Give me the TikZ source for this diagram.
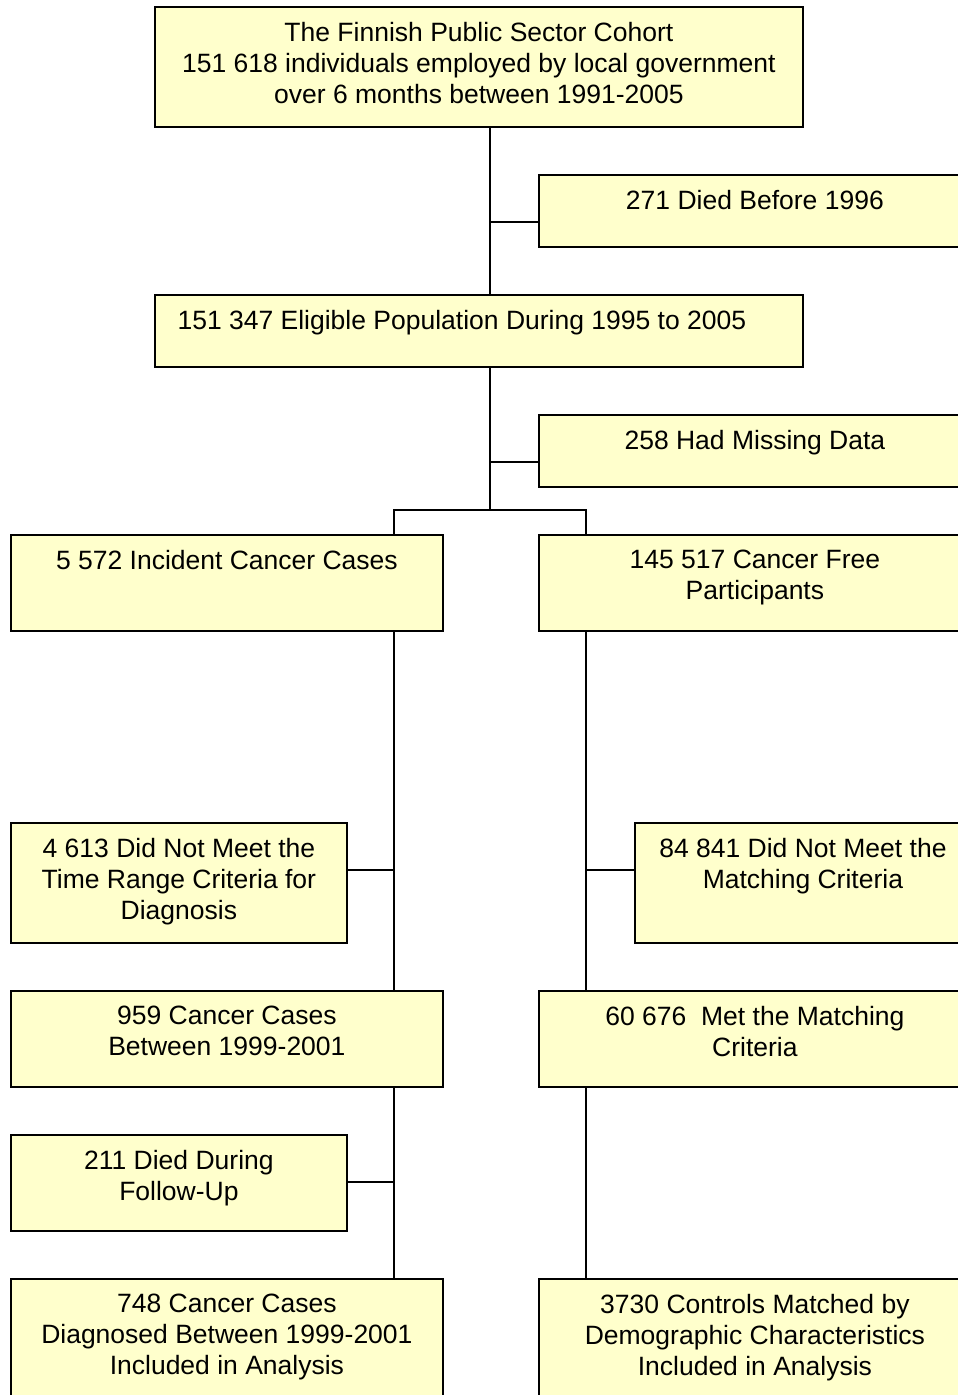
\documentclass[tikz,border=0pt]{standalone}
\usepackage{fontspec}
\setmainfont{Liberation Sans}
\usepackage{xcolor}
\usepackage{tikz}
\usetikzlibrary{positioning}

\definecolor{cohortyellow}{RGB}{255,255,204}

\tikzset{
  stage/.style={draw, fill=cohortyellow, line width=1.8pt, rectangle, anchor=north west, inner sep=0pt},
  boxtext/.style={anchor=north, inner sep=0pt, yshift=-16pt, align=center},
  link/.style={line width=1.8pt}
}

\begin{document}
\begin{tikzpicture}[x=1pt, y=-1pt, font=\fontsize{26.5}{31}\selectfont]
  \useasboundingbox (0,0) rectangle (958,1395);
  \clip (0,0) rectangle (958,1395);

  \node[stage, minimum width=648, minimum height=120, label={[boxtext]north:The Finnish Public Sector Cohort\\151 618 individuals employed by local government\\over 6 months between 1991-2005}] (cohort) at (154,6) {};
  \node[stage, minimum width=432, minimum height=72, label={[boxtext]north:271 Died Before 1996}] (died) at (538,174) {};
  \node[stage, minimum width=648, minimum height=72, label={[boxtext, xshift=-17pt]north:151 347 Eligible Population During 1995 to 2005}] (eligible) at (154,294) {};
  \node[stage, minimum width=432, minimum height=72, label={[boxtext]north:258 Had Missing Data}] (missing) at (538,414) {};
  \node[stage, minimum width=432, minimum height=96, label={[boxtext]north:5 572 Incident Cancer Cases}] (cases) at (10,534) {};
  \node[stage, minimum width=432, minimum height=96, label={[boxtext]north:145 517 Cancer Free\\Participants}] (free) at (538,534) {};
  \node[stage, minimum width=336, minimum height=120, label={[boxtext]north:4 613 Did Not Meet the\\Time Range Criteria for\\Diagnosis}] (late) at (10,822) {};
  \node[stage, minimum width=336, minimum height=120, label={[boxtext]north:84 841 Did Not Meet the\\Matching Criteria}] (unmatched) at (634,822) {};
  \node[stage, minimum width=432, minimum height=96, label={[boxtext]north:959 Cancer Cases\\Between 1999-2001}] (window) at (10,990) {};
  \node[stage, minimum width=432, minimum height=96, label={[boxtext]north:60 676\ \ Met the Matching\\Criteria}] (matched) at (538,990) {};
  \node[stage, minimum width=336, minimum height=96, label={[boxtext]north:211 Died During\\Follow-Up}] (diedfu) at (10,1134) {};
  \node[stage, minimum width=432, minimum height=120, label={[boxtext]north:748 Cancer Cases\\Diagnosed Between 1999-2001\\Included in Analysis}] (analysed) at (10,1278) {};
  \node[stage, minimum width=432, minimum height=120, label={[boxtext]north:3730 Controls Matched by\\Demographic Characteristics\\Included in Analysis}] (controls) at (538,1278) {};

  \coordinate (j1) at (490,222);
  \coordinate (j2) at (490,462);
  \coordinate (j3) at (490,510);
  \coordinate (jl1) at (394,870);
  \coordinate (jl2) at (394,1182);
  \coordinate (jr1) at (586,870);

  \draw[link] (cohort.south -| j1) -- (eligible.north -| j1);
  \draw[link] (j1) -- (died.west |- j1);
  \draw[link] (eligible.south -| j2) -- (j3);
  \draw[link] (j2) -- (missing.west |- j2);
  \draw[link] (cases.north -| jl1) |- (j3) -| (free.north -| jr1);
  \draw[link] (cases.south -| jl1) -- (window.north -| jl1);
  \draw[link] (jl1) -- (late.east |- jl1);
  \draw[link] (window.south -| jl2) -- (analysed.north -| jl2);
  \draw[link] (jl2) -- (diedfu.east |- jl2);
  \draw[link] (free.south -| jr1) -- (matched.north -| jr1);
  \draw[link] (jr1) -- (unmatched.west |- jr1);
  \draw[link] (matched.south -| jr1) -- (controls.north -| jr1);
\end{tikzpicture}
\end{document}
